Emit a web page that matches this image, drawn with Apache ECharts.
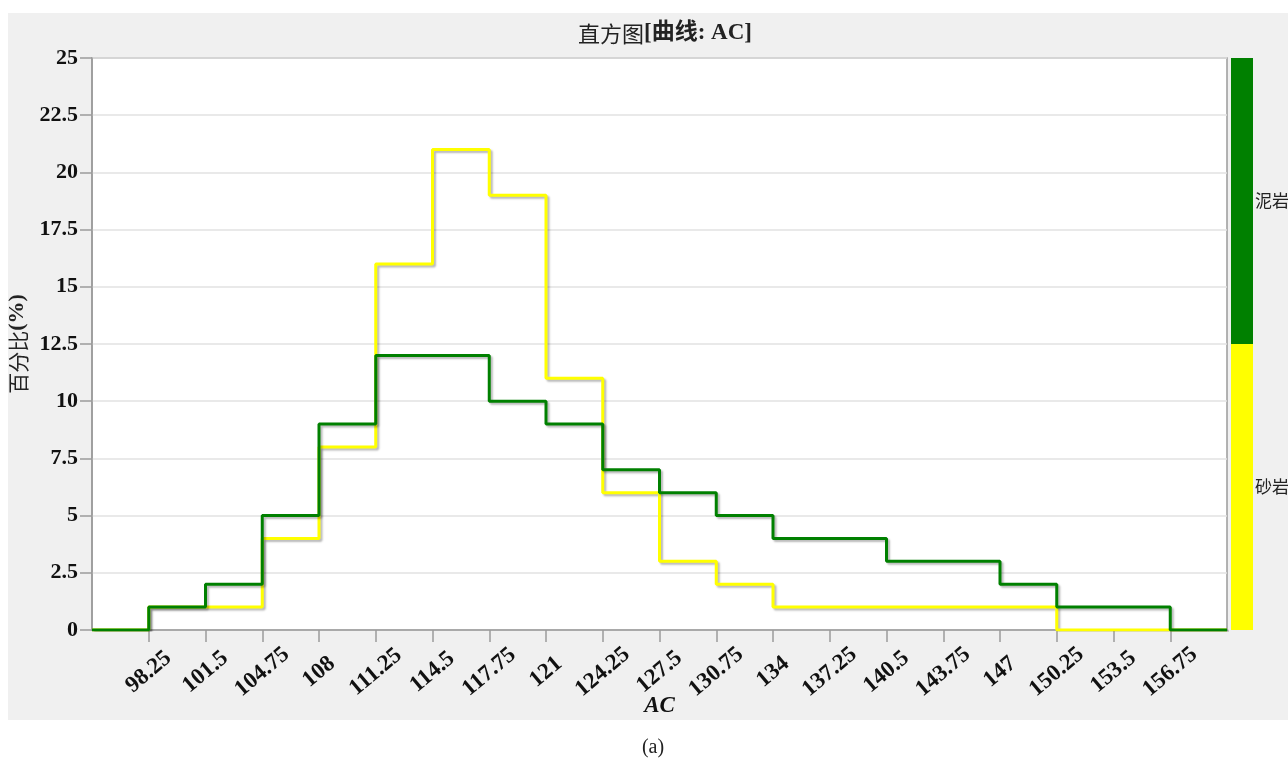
<!DOCTYPE html>
<html>
<head>
<meta charset="utf-8">
<script src="https://cdn.jsdelivr.net/npm/echarts@6/dist/echarts.min.js"></script>
<style>
html,body{margin:0;padding:0;background:#fff;}
#panel{position:absolute;left:8px;top:13px;width:1280px;height:707px;background:#f0f0f0;}
#chart{position:absolute;left:0;top:0;width:1288px;height:758px;}
</style>
</head>
<body>
<div id="panel"></div>
<div id="chart"></div>
<script>
// Bin edges (AC) and percentage of each bin starting at that edge
const binEdges = [95, 98.25, 101.5, 104.75, 108, 111.25, 114.5, 117.75, 121, 124.25, 127.5, 130.75, 134, 137.25, 140.5, 143.75, 147, 150.25, 153.5, 156.75, 160];
const mudstone = [0, 1, 2, 5, 9, 12, 12, 10, 9, 7, 6, 5, 4, 4, 3, 3, 2, 1, 1, 0, 0];
const sandstone = [0, 1, 1, 4, 8, 16, 21, 19, 11, 6, 3, 2, 1, 1, 1, 1, 1, 0, 0, 0, 0];
const legendNames = ['砂岩', '泥岩'];
const legendColors = ['#ffff00', '#008000'];
const yTicks = {min: 0, max: 25, interval: 2.5};
const xTicks = {min: 95, max: 160, interval: 3.25};

const serif = "'Liberation Serif','Times New Roman','Noto Sans CJK SC',serif";
const cjk = "'Noto Sans CJK SC','Liberation Serif',serif";

function pts(vals) { return binEdges.map((e, i) => [e, vals[i]]); }

const shadow = {shadowColor: 'rgba(0,0,0,0.28)', shadowBlur: 2, shadowOffsetX: 2, shadowOffsetY: 2};

const chart = echarts.init(document.getElementById('chart'), null, {renderer: 'canvas'});
chart.setOption({
  backgroundColor: 'transparent',
  animation: false,
  title: [{
    text: '{a|直方图}{b|[曲线: AC]}',
    left: 660, top: 17, textAlign: 'center',
    textStyle: {
      fontWeight: 'normal',
      rich: {
        a: {fontFamily: cjk, fontSize: 22, fontWeight: 'normal', color: '#222'},
        b: {fontFamily: serif, fontSize: 23, fontWeight: 'bold', color: '#222'}
      }
    }
  }, {
    text: '(a)', left: 648, top: 733, textAlign: 'center',
    textStyle: {fontFamily: serif, fontSize: 20, fontWeight: 'normal', color: '#222'}
  }],
  grid: [
    {left: 92, top: 58, width: 1135, height: 572, show: true, backgroundColor: '#fff', borderColor: '#9a9a9a', borderWidth: 1.5, containLabel: false, outerBoundsMode: 'none'},
    {left: 1231, top: 58, width: 22, height: 572, show: false, containLabel: false, outerBoundsMode: 'none'}
  ],
  xAxis: [{
    type: 'value', gridIndex: 0,
    min: xTicks.min, max: xTicks.max, interval: xTicks.interval,
    name: 'AC', nameLocation: 'middle', nameGap: 65, nameMoveOverlap: false,
    nameTextStyle: {fontFamily: serif, fontSize: 23, fontWeight: 'bold', fontStyle: 'italic', color: '#111'},
    axisLine: {show: true, lineStyle: {color: '#9a9a9a', width: 1.5}},
    axisTick: {show: true, length: 12, lineStyle: {color: '#9a9a9a', width: 1.5}},
    splitLine: {show: false},
    axisLabel: {
      rotate: 40, margin: 42, align: 'center', verticalAlign: 'middle',
      fontFamily: serif, fontSize: 23, fontWeight: 'bold', color: '#111',
      showMinLabel: false, showMaxLabel: false, hideOverlap: false,
      formatter: v => (v <= xTicks.min || v >= xTicks.max) ? '' : String(+v.toFixed(2))
    }
  }, {
    type: 'category', gridIndex: 1, data: ['legend'], show: false
  }],
  yAxis: [{
    type: 'value', gridIndex: 0,
    min: yTicks.min, max: yTicks.max, interval: yTicks.interval,
    name: '{a|百分比}{b|(%)}', nameLocation: 'middle', nameGap: 61,
    nameTextStyle: {
      rich: {
        a: {fontFamily: cjk, fontSize: 21, fontWeight: 'normal', color: '#222'},
        b: {fontFamily: serif, fontSize: 22, fontWeight: 'bold', color: '#222'}
      }
    },
    axisLine: {show: true, lineStyle: {color: '#9a9a9a', width: 1.5}},
    axisTick: {show: true, length: 12, lineStyle: {color: '#9a9a9a', width: 1.5}},
    splitLine: {show: true, lineStyle: {color: '#e2e2e2', width: 1.5}},
    axisLabel: {margin: 14, fontFamily: serif, fontSize: 22, fontWeight: 'bold', color: '#111'}
  }, {
    type: 'value', gridIndex: 1, min: 0, max: 2, show: false
  }],
  series: [{
    name: '砂岩', type: 'line', xAxisIndex: 0, yAxisIndex: 0,
    step: 'end', data: pts(sandstone), showSymbol: false, symbol: 'none', clip: true,
    lineStyle: Object.assign({color: '#ffff00', width: 3}, shadow), z: 2
  }, {
    name: '泥岩', type: 'line', xAxisIndex: 0, yAxisIndex: 0,
    step: 'end', data: pts(mudstone), showSymbol: false, symbol: 'none', clip: true,
    lineStyle: Object.assign({color: '#008000', width: 3}, shadow), z: 3
  }].concat(legendNames.map((n, i) => ({
    name: n, type: 'bar', xAxisIndex: 1, yAxisIndex: 1, stack: 'legend',
    barWidth: '100%', data: [1],
    itemStyle: {color: legendColors[i]},
    label: {show: true, position: 'right', distance: 2, formatter: '{a}',
      fontFamily: cjk, fontSize: 17, color: '#222'}
  })))
});
</script>
</body>
</html>
